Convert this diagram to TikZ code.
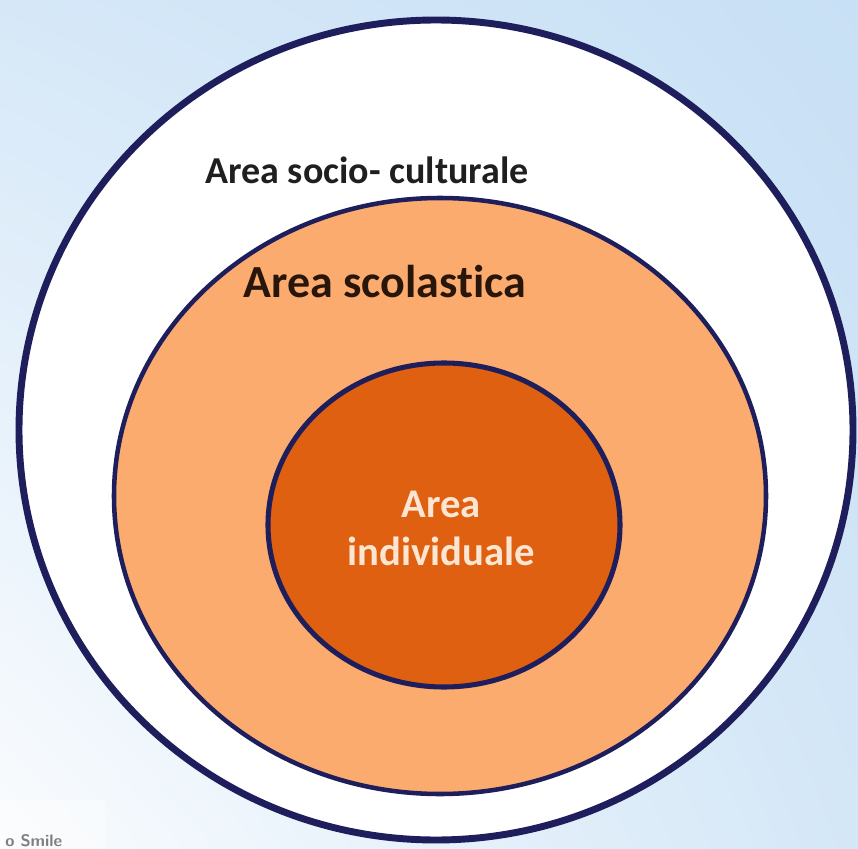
\documentclass[tikz,border=0pt]{standalone}
\usepackage{fontspec}
\setmainfont{Carlito}[Ligatures=NoCommon]
\usepackage{tikz}
\usetikzlibrary{shadings}

\definecolor{ringnavy}{HTML}{1E1E5C}
\definecolor{scuolaorange}{HTML}{FBAB6E}
\definecolor{individuoorange}{HTML}{DE6010}
\definecolor{peachtext}{HTML}{FCE6D2}
\definecolor{scuolatext}{HTML}{28160A}
\definecolor{skyUL}{HTML}{D6E8F8}
\definecolor{skyUR}{HTML}{C8E0F5}
\definecolor{skyLL}{HTML}{FAFCFE}
\definecolor{skyLR}{HTML}{D4E7F7}

\tikzset{
  ring/.style={draw=ringnavy},
  arealabel/.style={font=\bfseries, anchor=base, inner sep=0pt},
}

\begin{document}
\begin{tikzpicture}[x=0.75pt, y=-0.75pt]
\useasboundingbox (0,0) rectangle (858,849);
\shade[upper left=skyUL, upper right=skyUR, lower left=skyLL, lower right=skyLR]
  (0,0) rectangle (858,849);
\fill[white, opacity=0.35] (0,800) rectangle (105,849);
\node[anchor=base west, inner sep=0pt, font=\sffamily\bfseries\fontsize{12.5}{15}\selectfont, text=gray] (firma) at (5,846) {o Smile};

\draw[ring, fill=white, line width=5.2pt] (436,430) ellipse [x radius=417, y radius=410];
\draw[ring, fill=scuolaorange, line width=3.4pt] (440,496) ellipse [x radius=326, y radius=298];
\draw[ring, fill=individuoorange, line width=3.8pt] (444,525) ellipse [x radius=176, y radius=162];

\node[arealabel, font=\bfseries\fontsize{28.5}{34}\selectfont, text=black!88] (socio) at (367,184) {Area socio- culturale};
\node[arealabel, font=\bfseries\fontsize{34.5}{40}\selectfont, text=scuolatext] (scuola) at (385,297) {Area scolastica};
\node[arealabel, font=\bfseries\fontsize{30.5}{36}\selectfont, text=peachtext, align=center] (individuo) at (441,565) {Area\\individuale};
\end{tikzpicture}
\end{document}
